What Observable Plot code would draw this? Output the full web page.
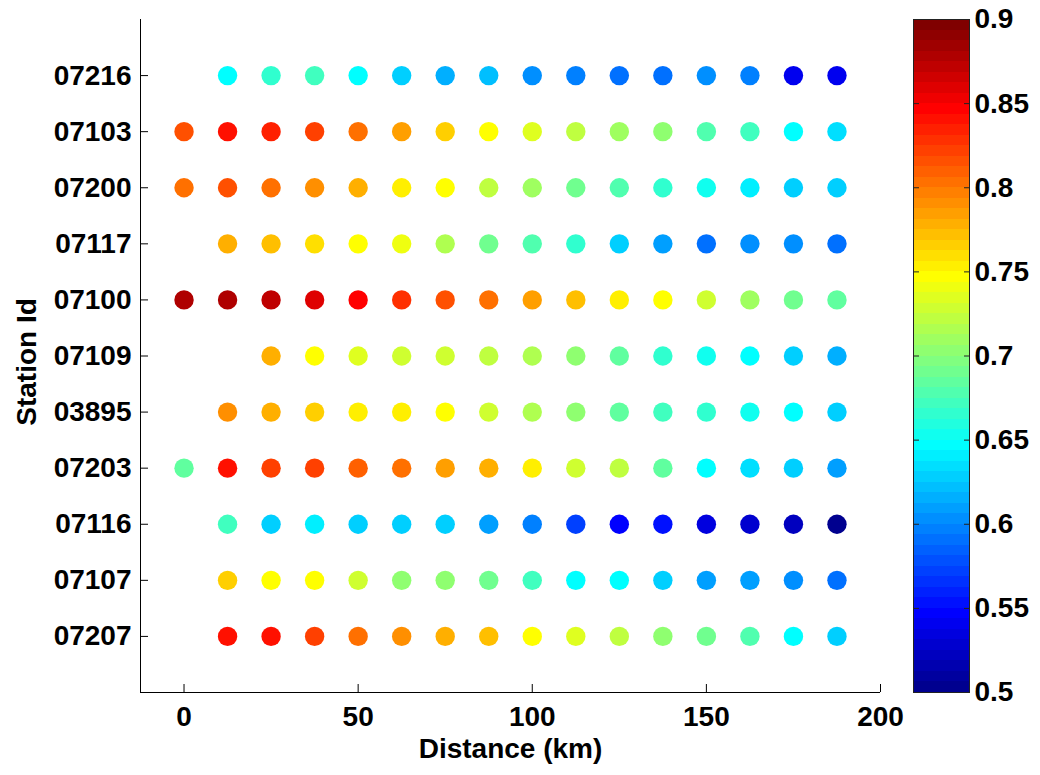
<!DOCTYPE html>
<html>
<head>
<meta charset="utf-8">
<script src="https://cdn.jsdelivr.net/npm/d3@7"></script>
<script src="https://cdn.jsdelivr.net/npm/@observablehq/plot@0.6"></script>
<style>
  html, body { margin: 0; padding: 0; background: #fff; }
  #wrap { position: relative; width: 1040px; height: 775px; overflow: hidden; }
  #main { position: absolute; left: 0; top: 0; }
  #cbar { position: absolute; left: 908px; top: 0; }
</style>
</head>
<body>
<div id="wrap"><div id="main"></div><div id="cbar"></div></div>
<script>
// ---- data ----
const stations = ["07216", "07103", "07200", "07117", "07100", "07109", "03895", "07203", "07116", "07107", "07207"];
const distances = [0, 12.5, 25, 37.5, 50, 62.5, 75, 87.5, 100, 112.5, 125, 137.5, 150, 162.5, 175, 187.5];

const v07216 = [null, .647, .667, .67, .647, .63, .613, .619, .605, .60, .593, .593, .605, .595, .542, .54];
const v07103 = [.817, .842, .836, .823, .805, .787, .764, .744, .732, .719, .709, .701, .681, .67, .647, .636];
const v07200 = [.805, .817, .80, .793, .778, .756, .747, .725, .711, .689, .677, .664, .656, .638, .63, .625];
const v07117 = [null, .775, .77, .759, .747, .738, .713, .693, .681, .668, .63, .609, .593, .601, .601, .593];
const v07100 = [.875, .881, .87, .858, .844, .828, .817, .80, .787, .77, .756, .744, .727, .707, .693, .683];
const v07109 = [null, null, .775, .747, .736, .73, .727, .719, .713, .701, .683, .666, .656, .644, .63, .613];
const v03895 = [null, .791, .779, .764, .756, .756, .744, .727, .715, .701, .683, .67, .664, .656, .644, .625];
const v07203 = [.687, .842, .823, .823, .811, .805, .787, .775, .756, .727, .719, .683, .647, .636, .625, .607];
const v07116 = [null, .67, .63, .638, .625, .625, .625, .607, .599, .575, .547, .556, .536, .53, .519, .503];
const v07107 = [null, .764, .747, .744, .727, .701, .701, .689, .67, .647, .644, .625, .609, .609, .601, .589];
const v07207 = [null, .84, .838, .823, .805, .793, .781, .77, .747, .732, .719, .701, .689, .677, .647, .625];

const stationValues = [v07216, v07103, v07200, v07117, v07100, v07109, v03895, v07203, v07116, v07107, v07207];

const xTicks = [0, 50, 100, 150, 200];
const cbTicks = [0.5, 0.55, 0.6, 0.65, 0.7, 0.75, 0.8, 0.85, 0.9];
const cbTickLabels = ["0.5", "0.55", "0.6", "0.65", "0.7", "0.75", "0.8", "0.85", "0.9"];
const cLimits = [0.5, 0.9];

// ---- MATLAB jet(64) colormap ----
const NC = 64;
function jetRow(j) { // j = 1..64
  const u = k => (k >= 1 && k <= 16) ? k / 16 : (k >= 17 && k <= 31) ? 1 : (k >= 32 && k <= 47) ? (48 - k) / 16 : 0;
  const r = j >= 25 ? u(j - 24) : 0;
  const g = (j >= 9 && j <= 55) ? u(j - 8) : 0;
  const b = j <= 39 ? u(j + 8) : 0;
  return d3.rgb(r * 255, g * 255, b * 255).formatHex();
}
const jet = t => {
  let idx = Math.floor(t * NC);
  idx = Math.max(0, Math.min(NC - 1, idx));
  return jetRow(idx + 1);
};
const colorScale = {type: "linear", domain: cLimits, interpolate: jet, clamp: true};

// ---- build points ----
const points = [];
stations.forEach((s, i) => {
  stationValues[i].forEach((v, k) => {
    if (v != null) points.push({station: s, row: stations.length - i, dist: distances[k], value: v});
  });
});
const rowTicks = stations.map((s, i) => stations.length - i);

const fontStyle = {fontFamily: "'Liberation Sans', Arial, sans-serif", fontSize: "28px", fontWeight: "bold", background: "transparent", color: "#000", overflow: "visible"};

const main = Plot.plot({
  width: 910, height: 775,
  marginLeft: 140, marginRight: 30, marginTop: 19, marginBottom: 83,
  style: fontStyle,
  x: {domain: [-12.5, 200]},
  y: {domain: [0, stations.length + 1]},
  color: colorScale,
  marks: [
    Plot.ruleX([-12.5], {stroke: "#000"}),
    Plot.ruleY([0], {stroke: "#000"}),
    Plot.axisX({ticks: xTicks, tickSize: 8, dy: -8, tickPadding: 14, label: null, stroke: "#000"}),
    Plot.axisY({ticks: rowTicks, tickFormat: d => stations[stations.length - d], tickSize: 8, dx: 8, tickPadding: 9, label: null, stroke: "#000"}),
    Plot.dot(points, {x: "dist", y: "row", fill: "value", r: 9.7}),
    Plot.text(["Distance (km)"], {text: d => d, frameAnchor: "bottom", lineAnchor: "top", dy: 46}),
    Plot.text(["Station Id"], {text: d => d, frameAnchor: "left", textAnchor: "middle", lineAnchor: "middle", rotate: -90, dx: -113, dy: 6})
  ]
});
document.getElementById("main").appendChild(main);

// ---- colorbar ----
const step = (cLimits[1] - cLimits[0]) / NC;
const bands = d3.range(NC).map(i => ({x1: 0, x2: 1, y1: cLimits[0] + i * step, y2: cLimits[0] + (i + 1) * step, mid: cLimits[0] + (i + 0.5) * step}));
const cbar = Plot.plot({
  width: 132, height: 775,
  marginLeft: 5, marginRight: 71, marginTop: 19, marginBottom: 83,
  style: fontStyle,
  x: {domain: [0, 1], axis: null},
  y: {domain: cLimits},
  color: colorScale,
  marks: [
    Plot.rect(bands, {x1: "x1", x2: "x2", y1: "y1", y2: "y2", fill: "mid", shapeRendering: "crispEdges"}),
    Plot.frame({stroke: "#222"}),
    Plot.axisY({anchor: "right", ticks: cbTicks, tickFormat: (d, i) => cbTickLabels[i], tickSize: 6, dx: -6, tickPadding: 5, label: null, stroke: "#222"}),
    Plot.axisY({anchor: "left", ticks: cbTicks, tickFormat: () => "", tickSize: 6, dx: 6, label: null, stroke: "#222"})
  ]
});
document.getElementById("cbar").appendChild(cbar);
</script>
</body>
</html>
